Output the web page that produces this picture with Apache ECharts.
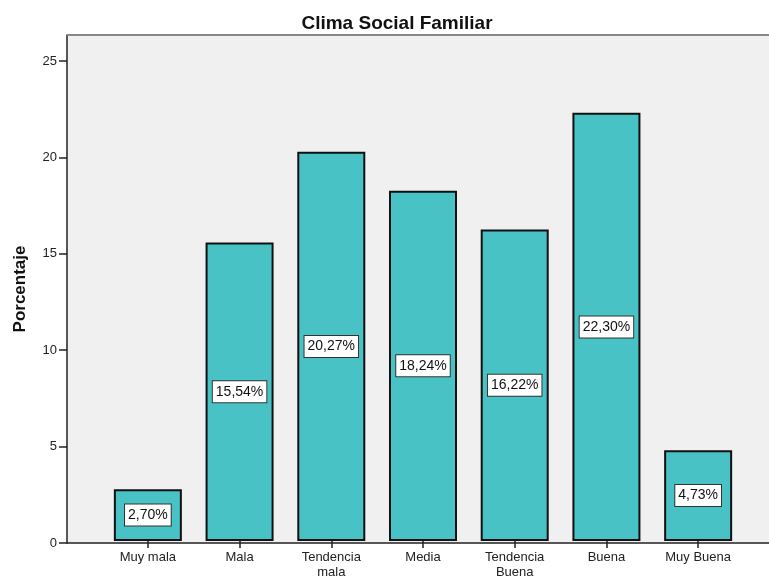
<!DOCTYPE html>
<html><head><meta charset="utf-8">
<script src="https://cdn.jsdelivr.net/npm/echarts@6/dist/echarts.min.js"></script>
<style>html,body{margin:0;padding:0;background:#fff}#c{width:769px;height:580px}</style>
</head><body><div id="c"></div>
<script>
const categories = ['Muy mala', 'Mala', 'Tendencia\nmala', 'Media', 'Tendencia\nBuena', 'Buena', 'Muy Buena'];
const values = [2.70, 15.54, 20.27, 18.24, 16.22, 22.30, 4.73];
const yTicks = [0, 5, 10, 15, 20, 25];
const yMax = 26.35;

const chart = echarts.init(document.getElementById('c'), null, {renderer: 'canvas'});
const font = 'Liberation Sans, Arial, sans-serif';
chart.setOption({
  animation: false,
  title: {
    text: 'Clima Social Familiar', left: 392, top: 9, textAlign: 'center',
    textStyle: {fontFamily: font, fontSize: 19, fontWeight: 'bold', color: '#111'}
  },
  grid: [
    {left: 67, right: 0, top: 35, bottom: 37, show: true, backgroundColor: '#f0f0f0', borderWidth: 0},
    {left: 102, right: 25, top: 35, bottom: 37}
  ],
  xAxis: [
    {gridIndex: 0, type: 'value', min: 0, max: 1, axisLine: {show: true, onZero: false, lineStyle: {color: '#222', width: 1.5}},
     axisTick: {show: false}, axisLabel: {show: false}, splitLine: {show: false}},
    {gridIndex: 1, type: 'category', data: categories,
     axisLine: {show: false}, axisTick: {show: true, alignWithLabel: true, length: 7, lineStyle: {color: '#222', width: 1.5}},
     axisLabel: {fontFamily: font, fontSize: 13, color: '#222', margin: 9, lineHeight: 15, interval: 0}}
  ],
  yAxis: [
    {gridIndex: 0, type: 'value', min: 0, max: yMax, interval: 5,
     name: 'Porcentaje', nameLocation: 'middle', nameGap: 38, nameRotate: 90,
     nameTextStyle: {fontFamily: font, fontSize: 17, fontWeight: 'bold', color: '#111'},
     axisLine: {show: true, lineStyle: {color: '#222', width: 1.5}},
     axisTick: {show: true, length: 8, customValues: yTicks, lineStyle: {color: '#222', width: 1.5}},
     axisLabel: {customValues: yTicks, fontFamily: font, fontSize: 13, color: '#222', margin: 10},
     splitLine: {show: false}},
    {gridIndex: 1, type: 'value', min: 0, max: yMax, show: false, splitLine: {show: false}}
  ],
  graphic: [
    {type: 'line', shape: {x1: 67, y1: 35, x2: 769, y2: 35}, style: {stroke: '#888', lineWidth: 2}, z: 100}
  ],
  series: [{
    type: 'bar', xAxisIndex: 1, yAxisIndex: 1, data: values, barWidth: 68,
    itemStyle: {color: '#48c2c5', borderColor: '#111', borderWidth: 2},
    label: {
      show: true, position: 'inside', color: '#111', fontFamily: font, fontSize: 14,
      backgroundColor: '#fff', borderColor: '#333', borderWidth: 1, padding: [4, 3, 3, 3],
      formatter: p => p.value.toFixed(2).replace('.', ',') + '%'
    }
  }]
});
</script></body></html>
